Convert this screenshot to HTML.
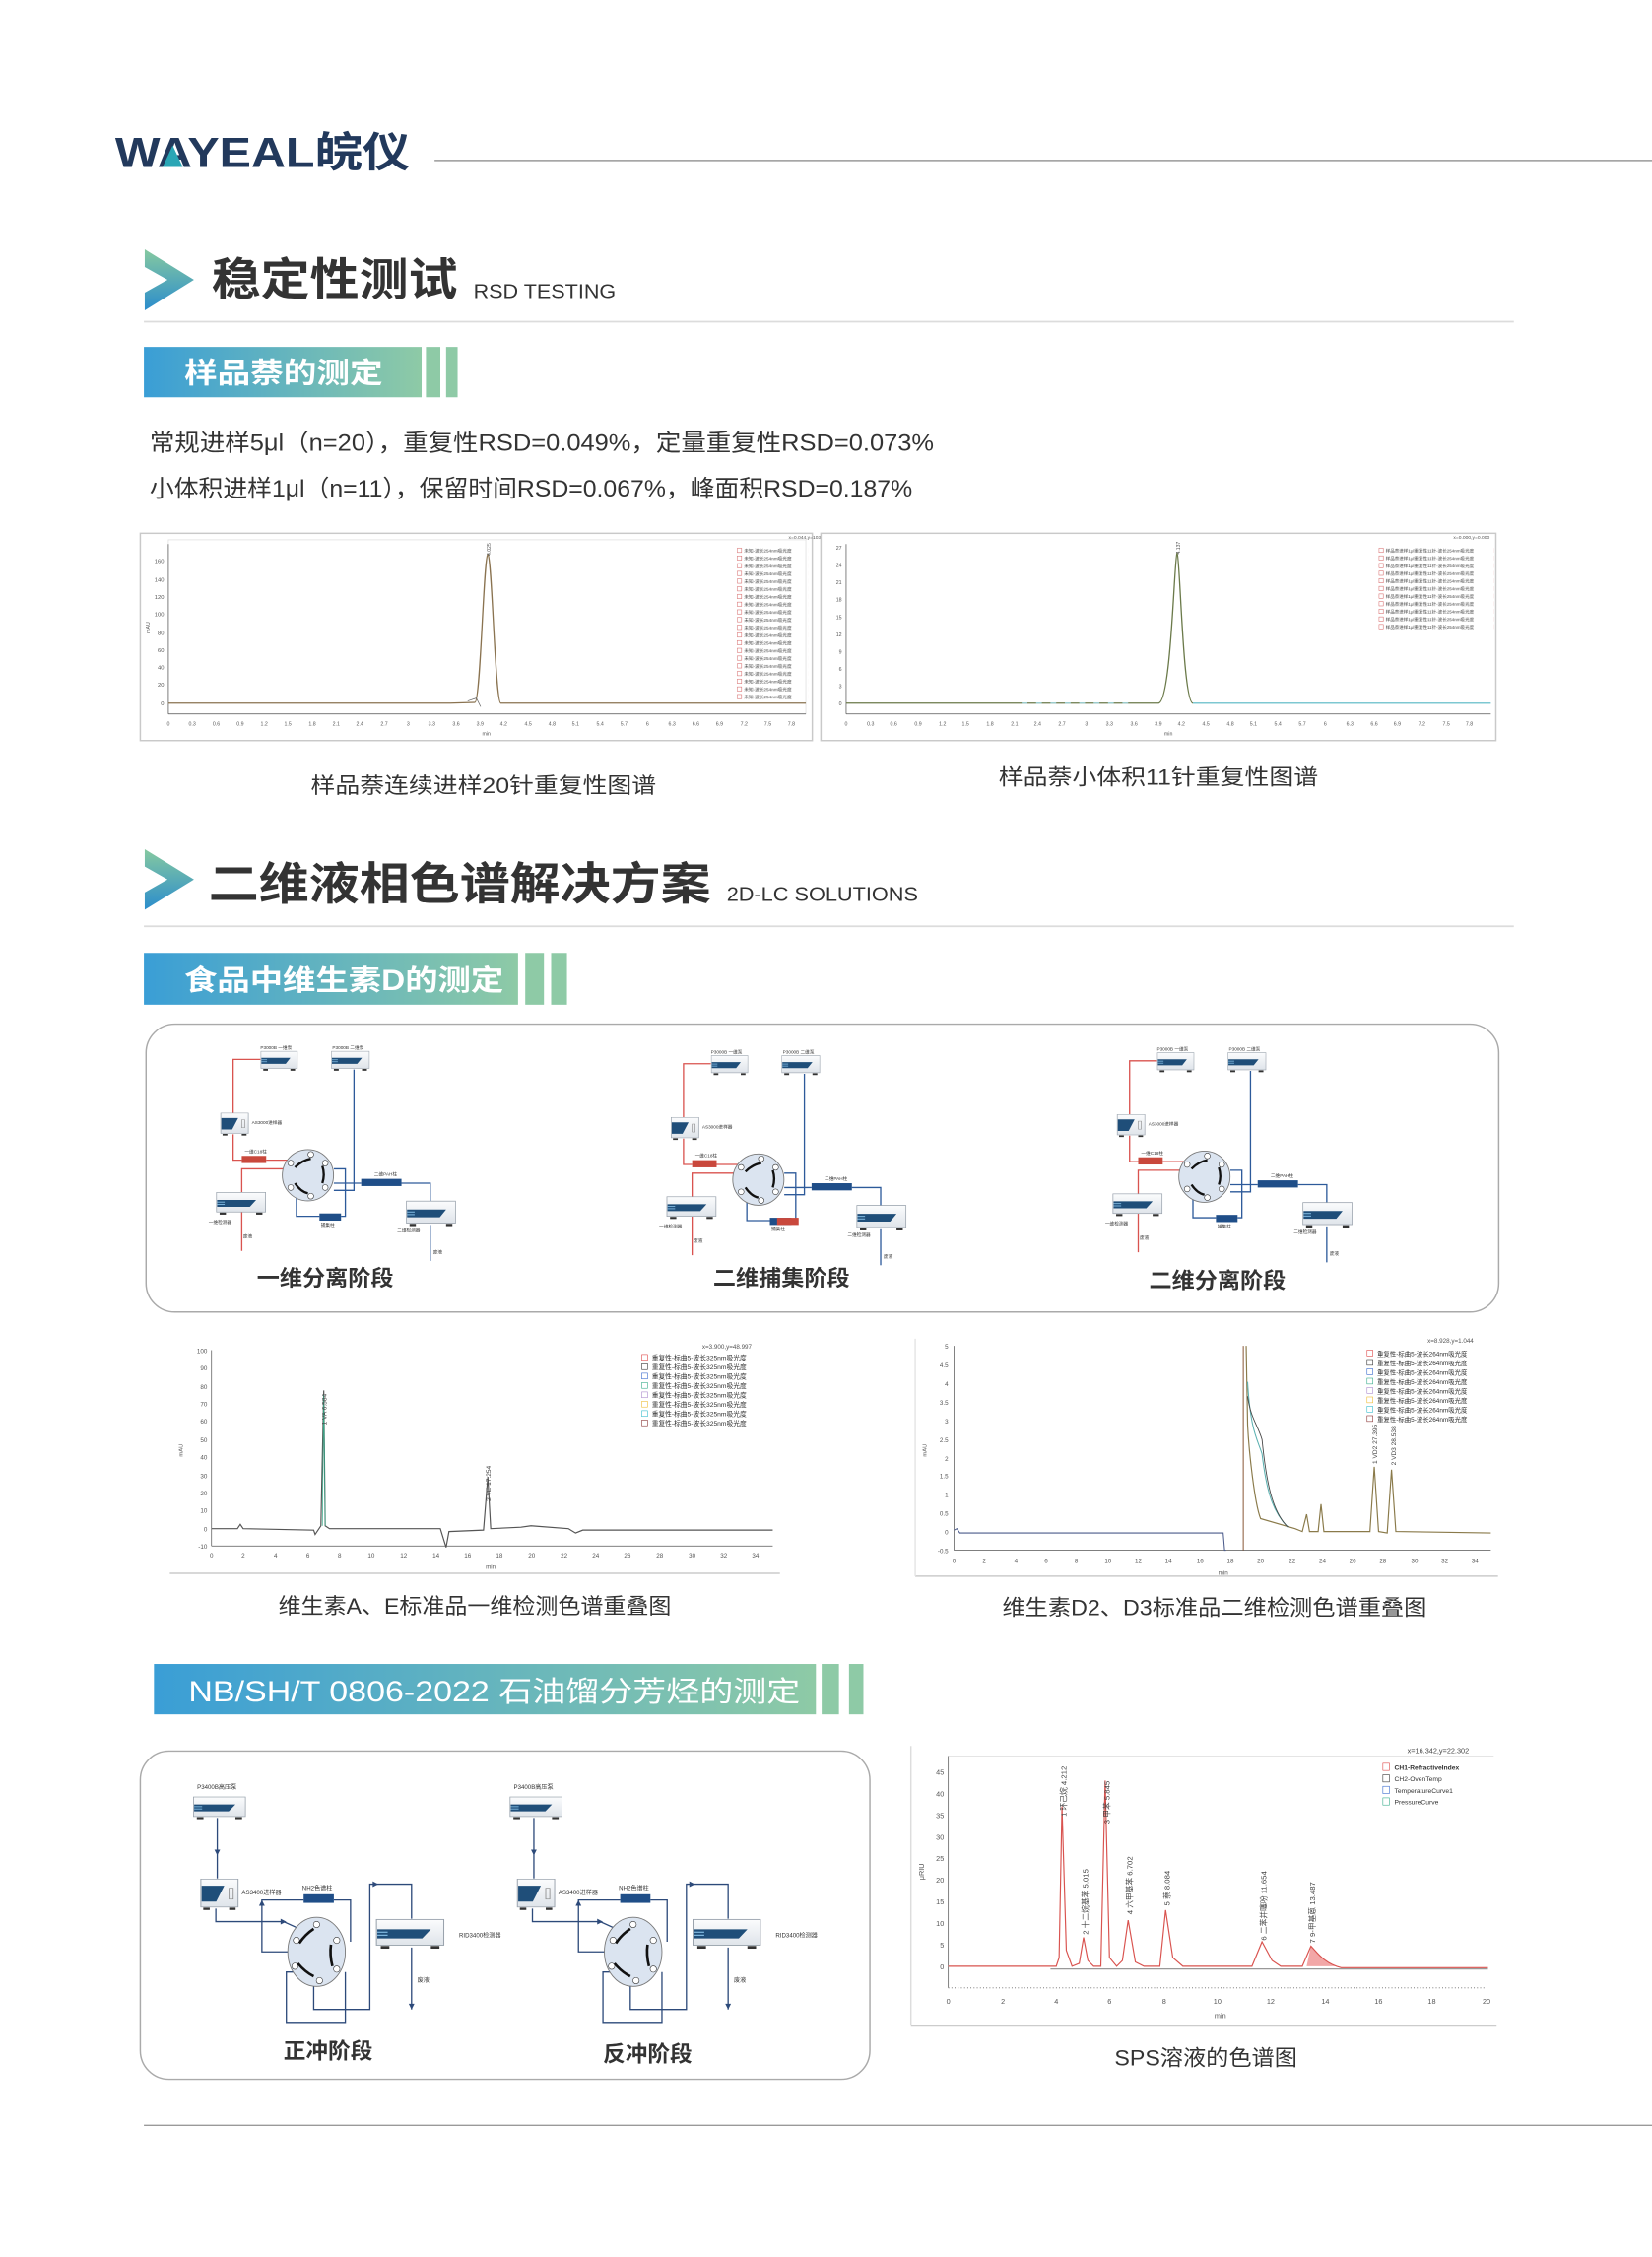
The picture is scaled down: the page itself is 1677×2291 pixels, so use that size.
<!DOCTYPE html>
<html><head><meta charset="utf-8">
<style>
html,body{margin:0;padding:0;background:#fff;}
svg{display:block;}
text{font-family:"Liberation Sans","Noto Sans CJK SC",sans-serif;}
</style></head>
<body>
<svg width="1677" height="2291" viewBox="0 0 1148 1568" preserveAspectRatio="none" xmlns="http://www.w3.org/2000/svg">
<defs>
<linearGradient id="ban" x1="0" x2="1" y1="0" y2="0"><stop offset="0" stop-color="#3a9ed6"/><stop offset="1" stop-color="#8ecaa6"/></linearGradient>
<linearGradient id="arr" x1="0" x2="0" y1="0" y2="1"><stop offset="0" stop-color="#86c9a0"/><stop offset="1" stop-color="#2b8dcc"/></linearGradient>
<linearGradient id="box" x1="0" x2="0" y1="0" y2="1"><stop offset="0" stop-color="#fbfcfd"/><stop offset="1" stop-color="#dfe4ea"/></linearGradient>
<symbol id="inst" viewBox="0 0 40 20" preserveAspectRatio="none">
<rect x="0.5" y="0.5" width="39" height="17" fill="url(#box)" stroke="#9aa3ad" stroke-width="0.6"/>
<polygon points="1,7 32,7 27,13 1,13" fill="#1f4e79"/>
<rect x="1" y="8.5" width="6" height="0.8" fill="#7fb8e0"/><rect x="1" y="10.5" width="6" height="0.8" fill="#7fb8e0"/>
<rect x="3" y="18" width="5" height="1.8" fill="#333"/><rect x="32" y="18" width="5" height="1.8" fill="#333"/>
</symbol>
<symbol id="samp" viewBox="0 0 24 26" preserveAspectRatio="none">
<rect x="0.5" y="0.5" width="23" height="23" fill="url(#box)" stroke="#9aa3ad" stroke-width="0.6"/>
<polygon points="1,6 15,6 10,19 1,19" fill="#1f4e79"/>
<rect x="18" y="8" width="2.5" height="9" fill="none" stroke="#888" stroke-width="0.5"/>
<rect x="2" y="24" width="4" height="2" fill="#333"/><rect x="18" y="24" width="4" height="2" fill="#333"/>
</symbol>
<pattern id="leg20" x="512" y="380" width="50" height="5.35" patternUnits="userSpaceOnUse">
<rect x="0.3" y="0.8" width="3" height="3" fill="#fff" stroke="#c44" stroke-width="0.3"/>
<text x="5" y="3.6" font-size="3.2" fill="#444">未知-波长254nm吸光度</text>
</pattern>
<pattern id="leg11" x="958" y="380" width="80" height="5.3" patternUnits="userSpaceOnUse">
<rect x="0.3" y="0.8" width="3" height="3" fill="#fff" stroke="#c44" stroke-width="0.3"/>
<text x="5" y="3.6" font-size="3.1" fill="#444">样品萘进样1μl重复性11针-波长254nm吸光度</text>
</pattern>
</defs>

<!-- header -->
<text x="80" y="116" font-size="29" font-weight="bold" fill="#22395c" textLength="205" lengthAdjust="spacingAndGlyphs">WAYEAL皖仪</text>
<polygon points="113,116 120,101 127,116" fill="#2aa6b5"/>
<line x1="302" y1="111.5" x2="1148" y2="111.5" stroke="#9a9a9a" stroke-width="1"/>

<!-- section 1 -->
<polygon points="100.6,173.2 134.8,194.4 100.6,215.6 100.6,203.3 116.4,194.4 100.6,185.5" fill="url(#arr)"/>
<text x="147" y="205" font-size="31" font-weight="bold" fill="#333" textLength="171" lengthAdjust="spacingAndGlyphs">稳定性测试</text>
<text x="329" y="207" font-size="14" fill="#333" textLength="99" lengthAdjust="spacingAndGlyphs">RSD TESTING</text>
<line x1="100" y1="223.5" x2="1052" y2="223.5" stroke="#dcdcdc" stroke-width="1.2"/>
<rect x="100" y="241" width="193" height="35" fill="url(#ban)"/>
<rect x="296" y="241" width="10" height="35" fill="#8ecaa6"/><rect x="310" y="241" width="8" height="35" fill="#8ecaa6"/>
<text x="128" y="266" font-size="20" font-weight="bold" fill="#fff" textLength="138" lengthAdjust="spacingAndGlyphs">样品萘的测定</text>
<text x="104" y="313" font-size="16.5" fill="#333" textLength="545" lengthAdjust="spacingAndGlyphs">常规进样5μl（n=20），重复性RSD=0.049%，定量重复性RSD=0.073%</text>
<text x="104" y="345" font-size="16.5" fill="#333" textLength="530" lengthAdjust="spacingAndGlyphs">小体积进样1μl（n=11），保留时间RSD=0.067%，峰面积RSD=0.187%</text>

<!-- chart 1 left -->
<rect x="97.5" y="370.5" width="467" height="144" fill="#fff" stroke="#c9c9c9"/>
<rect x="117" y="375" width="443" height="121" fill="none" stroke="#ddd" stroke-width="0.5"/>
<line x1="117" y1="378" x2="117" y2="496" stroke="#555" stroke-width="0.5"/>
<line x1="117" y1="496" x2="560" y2="496" stroke="#555" stroke-width="0.5"/>
<g font-size="4" fill="#555" text-anchor="end">
<text x="114" y="490">0</text><text x="114" y="477">20</text><text x="114" y="465">40</text><text x="114" y="453">60</text><text x="114" y="441">80</text><text x="114" y="428">100</text><text x="114" y="416">120</text><text x="114" y="404">140</text><text x="114" y="391">160</text>
</g>
<g font-size="3.6" fill="#555" text-anchor="middle">
<text x="117" y="504">0</text><text x="133.6" y="504">0.3</text><text x="150.3" y="504">0.6</text><text x="167" y="504">0.9</text><text x="183.6" y="504">1.2</text><text x="200" y="504">1.5</text><text x="217" y="504">1.8</text><text x="233.6" y="504">2.1</text><text x="250" y="504">2.4</text><text x="267" y="504">2.7</text><text x="283.6" y="504">3</text><text x="300" y="504">3.3</text><text x="317" y="504">3.6</text><text x="333.6" y="504">3.9</text><text x="350" y="504">4.2</text><text x="367" y="504">4.5</text><text x="383.6" y="504">4.8</text><text x="400" y="504">5.1</text><text x="417" y="504">5.4</text><text x="433.6" y="504">5.7</text><text x="450" y="504">6</text><text x="467" y="504">6.3</text><text x="483.6" y="504">6.6</text><text x="500" y="504">6.9</text><text x="517" y="504">7.2</text><text x="533.6" y="504">7.5</text><text x="550" y="504">7.8</text>
<text x="338" y="511">min</text></g>
<text x="104" y="440" font-size="3.6" fill="#555" transform="rotate(-90 104 440)">mAU</text>
<text x="548" y="374.5" font-size="3.4" fill="#555">x=0.044,y=103.109</text>
<rect x="512" y="380" width="50" height="107" fill="url(#leg20)"/>
<path d="M117 488.5 L313 488.5 L330 488 C334 488 336 387 339 385 C342 387 344 488 348 488.5 L560 488.5" fill="none" stroke="#8a7350" stroke-width="0.9"/>
<path d="M325 487 L331 485 L334 491" fill="none" stroke="#666" stroke-width="0.5"/>
<text x="341" y="386" font-size="3.5" fill="#555" transform="rotate(-90 341 386)">4.025</text>

<!-- chart 1 right -->
<rect x="570.5" y="370.5" width="469" height="144" fill="#fff" stroke="#c9c9c9"/>
<line x1="588" y1="378" x2="588" y2="496" stroke="#555" stroke-width="0.5"/>
<line x1="588" y1="496" x2="1036" y2="496" stroke="#555" stroke-width="0.5"/>
<g font-size="3.6" fill="#555" text-anchor="end">
<text x="585" y="490">0</text><text x="585" y="478">3</text><text x="585" y="466">6</text><text x="585" y="454">9</text><text x="585" y="442">12</text><text x="585" y="430">15</text><text x="585" y="418">18</text><text x="585" y="406">21</text><text x="585" y="394">24</text><text x="585" y="382">27</text>
</g>
<g font-size="3.6" fill="#555" text-anchor="middle">
<text x="588" y="504">0</text><text x="605" y="504">0.3</text><text x="621" y="504">0.6</text><text x="638" y="504">0.9</text><text x="655" y="504">1.2</text><text x="671" y="504">1.5</text><text x="688" y="504">1.8</text><text x="705" y="504">2.1</text><text x="721" y="504">2.4</text><text x="738" y="504">2.7</text><text x="755" y="504">3</text><text x="771" y="504">3.3</text><text x="788" y="504">3.6</text><text x="805" y="504">3.9</text><text x="821" y="504">4.2</text><text x="838" y="504">4.5</text><text x="855" y="504">4.8</text><text x="871" y="504">5.1</text><text x="888" y="504">5.4</text><text x="905" y="504">5.7</text><text x="921" y="504">6</text><text x="938" y="504">6.3</text><text x="955" y="504">6.6</text><text x="971" y="504">6.9</text><text x="988" y="504">7.2</text><text x="1005" y="504">7.5</text><text x="1021" y="504">7.8</text>
<text x="812" y="511">min</text></g>
<text x="1010" y="374.5" font-size="3.4" fill="#555">x=0.000,y=0.000</text>
<rect x="958" y="380" width="80" height="58" fill="url(#leg11)"/>
<path d="M588 488.5 L805 488.5 C814 488 816 386 818 384 C820 386 822 488 829 488.5" fill="none" stroke="#6b7a4a" stroke-width="0.9"/>
<line x1="829" y1="488.5" x2="1036" y2="488.5" stroke="#7ec8d2" stroke-width="1"/>
<line x1="710" y1="488.5" x2="790" y2="488.5" stroke="#9fd4da" stroke-width="0.8" stroke-dasharray="4 6"/>
<text x="820" y="385" font-size="3.5" fill="#555" transform="rotate(-90 820 385)">4.137</text>

<text x="336" y="551" font-size="15" fill="#333" text-anchor="middle" textLength="240" lengthAdjust="spacingAndGlyphs">样品萘连续进样20针重复性图谱</text>
<text x="805" y="545" font-size="15" fill="#333" text-anchor="middle" textLength="222" lengthAdjust="spacingAndGlyphs">样品萘小体积11针重复性图谱</text>

<!-- section 2 -->
<polygon points="100.6,590 134.8,611 100.6,632 100.6,620 116.4,611 100.6,602" fill="url(#arr)"/>
<text x="145" y="625" font-size="31" font-weight="bold" fill="#333" textLength="349" lengthAdjust="spacingAndGlyphs">二维液相色谱解决方案</text>
<text x="505" y="626" font-size="14" fill="#333" textLength="133" lengthAdjust="spacingAndGlyphs">2D-LC SOLUTIONS</text>
<line x1="100" y1="643.5" x2="1052" y2="643.5" stroke="#dcdcdc" stroke-width="1.2"/>
<rect x="100" y="662" width="260" height="36" fill="url(#ban)"/>
<rect x="365" y="662" width="13" height="36" fill="#8ecaa6"/><rect x="383" y="662" width="11" height="36" fill="#8ecaa6"/>
<text x="128" y="688" font-size="20" font-weight="bold" fill="#fff" textLength="222" lengthAdjust="spacingAndGlyphs">食品中维生素D的测定</text>

<rect x="101.5" y="711.5" width="940" height="200" rx="20" fill="#fff" stroke="#aaa" stroke-width="1"/>

<g id="d1">
<g fill="none" stroke-width="0.9">
<polyline points="181,736 162,736 162,774" stroke="#d9534f"/>
<polyline points="162,788 162,806 168,806" stroke="#d9534f"/>
<polyline points="185,806 210,806" stroke="#d9534f"/>
<polyline points="168,869 168,812 199,812" stroke="#d9534f"/>
<polyline points="246,743 246,827 232,827" stroke="#2d5a9a"/>
<polyline points="232,812 240,812 240,845 237,845" stroke="#2d5a9a"/>
<polyline points="222,845 206,845 206,830" stroke="#2d5a9a"/>
<polyline points="232,822 251,822" stroke="#2d5a9a"/>
<polyline points="279,822 299,822 299,835" stroke="#2d5a9a"/>
<polyline points="299,851 299,876" stroke="#2d5a9a"/>
</g>
<circle cx="214" cy="816.5" r="17.8" fill="#dbe4f0" stroke="#777" stroke-width="0.6"/>
<g fill="#fff" stroke="#333" stroke-width="0.4">
<circle cx="216" cy="802" r="2"/><circle cx="226" cy="808" r="2"/><circle cx="226" cy="825" r="2"/><circle cx="216" cy="831" r="2"/><circle cx="202" cy="825" r="2"/><circle cx="202" cy="808" r="2"/>
</g>
<g fill="none" stroke="#111" stroke-width="1.6">
<path d="M216 805 Q210 806 205 811"/><path d="M224 810 Q226 816 224 822"/><path d="M205 822 Q209 828 214 829"/>
</g>
<rect x="168" y="803" width="17" height="5" fill="#c9483c"/>
<rect x="251" y="819" width="28" height="5" fill="#1f4e88"/>
<rect x="222" y="843" width="15" height="5" fill="#1f4e88"/>
<use href="#inst" x="181" y="730" width="26" height="14"/>
<use href="#inst" x="230" y="730" width="27" height="14"/>
<use href="#samp" x="153" y="773" width="20" height="16"/>
<use href="#inst" x="150" y="828" width="35" height="16"/>
<use href="#inst" x="282" y="834" width="35" height="18"/>
<g font-size="3.2" fill="#333">
<text x="181" y="729">P3000B 一维泵</text><text x="231" y="729">P3000B 二维泵</text>
<text x="175" y="781">AS3000进样器</text><text x="170" y="801">一维C18柱</text>
<text x="260" y="817">二维PAH柱</text><text x="145" y="850">一维检测器</text><text x="169" y="860">废液</text>
<text x="223" y="852">捕集柱</text><text x="276" y="856">二维检测器</text><text x="301" y="871">废液</text>
</g>
</g>
<use href="#d1" x="313" y="3"/>
<rect x="540" y="846" width="15" height="5" fill="#c9483c"/>
<use href="#d1" x="623" y="1"/>

<text x="226" y="893" font-size="15" font-weight="bold" fill="#333" text-anchor="middle" textLength="95" lengthAdjust="spacingAndGlyphs">一维分离阶段</text>
<text x="543" y="893" font-size="15" font-weight="bold" fill="#333" text-anchor="middle" textLength="95" lengthAdjust="spacingAndGlyphs">二维捕集阶段</text>
<text x="846" y="895" font-size="15" font-weight="bold" fill="#333" text-anchor="middle" textLength="95" lengthAdjust="spacingAndGlyphs">二维分离阶段</text>

<!-- chart VA VE -->
<line x1="118" y1="1093" x2="542" y2="1093" stroke="#ccc"/>
<line x1="147" y1="938" x2="147" y2="1074" stroke="#555" stroke-width="0.5"/>
<line x1="147" y1="1074" x2="537" y2="1074" stroke="#555" stroke-width="0.5"/>
<g font-size="4.3" fill="#555" text-anchor="end">
<text x="144" y="940">100</text><text x="144" y="952">90</text><text x="144" y="965">80</text><text x="144" y="977">70</text><text x="144" y="989">60</text><text x="144" y="1002">50</text><text x="144" y="1014">40</text><text x="144" y="1027">30</text><text x="144" y="1039">20</text><text x="144" y="1051">10</text><text x="144" y="1064">0</text><text x="144" y="1076">-10</text>
</g>
<g font-size="4.3" fill="#555" text-anchor="middle">
<text x="147" y="1082">0</text><text x="169" y="1082">2</text><text x="191.5" y="1082">4</text><text x="214" y="1082">6</text><text x="236" y="1082">8</text><text x="258" y="1082">10</text><text x="280.5" y="1082">12</text><text x="303" y="1082">14</text><text x="325" y="1082">16</text><text x="347" y="1082">18</text><text x="369.5" y="1082">20</text><text x="392" y="1082">22</text><text x="414" y="1082">24</text><text x="436" y="1082">26</text><text x="458.5" y="1082">28</text><text x="481" y="1082">30</text><text x="503" y="1082">32</text><text x="525" y="1082">34</text>
<text x="341" y="1090">min</text></g>
<text x="127" y="1012" font-size="4" fill="#555" transform="rotate(-90 127 1012)">mAU</text>
<text x="488" y="937" font-size="4.3" fill="#555">x=3.900,y=48.997</text>
<g font-size="4.6" fill="#333">
<rect x="446" y="941" width="4" height="4" fill="#fff" stroke="#d44" stroke-width="0.4"/><text x="453" y="945">重复性-标曲5-波长325nm吸光度</text>
<rect x="446" y="947.5" width="4" height="4" fill="#fff" stroke="#333" stroke-width="0.4"/><text x="453" y="951.5">重复性-标曲5-波长325nm吸光度</text>
<rect x="446" y="954" width="4" height="4" fill="#fff" stroke="#36c" stroke-width="0.4"/><text x="453" y="958">重复性-标曲5-波长325nm吸光度</text>
<rect x="446" y="960.5" width="4" height="4" fill="#fff" stroke="#3a8" stroke-width="0.4"/><text x="453" y="964.5">重复性-标曲5-波长325nm吸光度</text>
<rect x="446" y="967" width="4" height="4" fill="#fff" stroke="#a8c" stroke-width="0.4"/><text x="453" y="971">重复性-标曲5-波长325nm吸光度</text>
<rect x="446" y="973.5" width="4" height="4" fill="#fff" stroke="#eb3" stroke-width="0.4"/><text x="453" y="977.5">重复性-标曲5-波长325nm吸光度</text>
<rect x="446" y="980" width="4" height="4" fill="#fff" stroke="#3bc" stroke-width="0.4"/><text x="453" y="984">重复性-标曲5-波长325nm吸光度</text>
<rect x="446" y="986.5" width="4" height="4" fill="#fff" stroke="#833" stroke-width="0.4"/><text x="453" y="990.5">重复性-标曲5-波长325nm吸光度</text>
</g>
<path d="M147 1062 L165 1062 L167 1059 L169 1062 L218 1063 L219 1066 L223 1060 L225 966 L226 1060 L229 1062 L306 1062 L310 1075 L312 1064 L336 1063 L339 1026 L341 1062 L362 1061 L369 1060 L395 1062 L400 1065 L405 1063 L537 1063" fill="none" stroke="#555" stroke-width="0.8"/>
<path d="M224 1060 L225 969 L226 1060" fill="none" stroke="#3a8" stroke-width="0.5"/>
<text x="227" y="990" font-size="4.5" fill="#444" transform="rotate(-90 227 990)">1 VA 6.584</text>
<text x="341" y="1043" font-size="4.5" fill="#444" transform="rotate(-90 341 1043)">2 VE 17.254</text>

<!-- chart VD -->
<line x1="636" y1="1095" x2="1041" y2="1095" stroke="#ccc"/>
<line x1="636" y1="930" x2="636" y2="1095" stroke="#e5e5e5"/>
<line x1="663" y1="935" x2="663" y2="1077" stroke="#555" stroke-width="0.5"/>
<line x1="663" y1="1077" x2="1036" y2="1077" stroke="#555" stroke-width="0.5"/>
<g font-size="4.3" fill="#555" text-anchor="end">
<text x="659" y="937">5</text><text x="659" y="950">4.5</text><text x="659" y="963">4</text><text x="659" y="976">3.5</text><text x="659" y="989">3</text><text x="659" y="1002">2.5</text><text x="659" y="1015">2</text><text x="659" y="1027">1.5</text><text x="659" y="1040">1</text><text x="659" y="1053">0.5</text><text x="659" y="1066">0</text><text x="659" y="1079">-0.5</text>
</g>
<g font-size="4.3" fill="#555" text-anchor="middle">
<text x="663" y="1086">0</text><text x="684" y="1086">2</text><text x="706" y="1086">4</text><text x="727" y="1086">6</text><text x="748" y="1086">8</text><text x="770" y="1086">10</text><text x="791" y="1086">12</text><text x="812" y="1086">14</text><text x="834" y="1086">16</text><text x="855" y="1086">18</text><text x="876" y="1086">20</text><text x="898" y="1086">22</text><text x="919" y="1086">24</text><text x="940" y="1086">26</text><text x="961" y="1086">28</text><text x="983" y="1086">30</text><text x="1004" y="1086">32</text><text x="1025" y="1086">34</text>
<text x="850" y="1094">min</text></g>
<text x="644" y="1012" font-size="4" fill="#555" transform="rotate(-90 644 1012)">mAU</text>
<text x="992" y="933" font-size="4.3" fill="#555">x=8.928,y=1.044</text>
<g font-size="4.4" fill="#333">
<rect x="950" y="938" width="4" height="4" fill="#fff" stroke="#d44" stroke-width="0.4"/><text x="957" y="942">重复性-标曲5-波长264nm吸光度</text>
<rect x="950" y="944.5" width="4" height="4" fill="#fff" stroke="#333" stroke-width="0.4"/><text x="957" y="948.5">重复性-标曲5-波长264nm吸光度</text>
<rect x="950" y="951" width="4" height="4" fill="#fff" stroke="#36c" stroke-width="0.4"/><text x="957" y="955">重复性-标曲5-波长264nm吸光度</text>
<rect x="950" y="957.5" width="4" height="4" fill="#fff" stroke="#3a8" stroke-width="0.4"/><text x="957" y="961.5">重复性-标曲5-波长264nm吸光度</text>
<rect x="950" y="964" width="4" height="4" fill="#fff" stroke="#a8c" stroke-width="0.4"/><text x="957" y="968">重复性-标曲5-波长264nm吸光度</text>
<rect x="950" y="970.5" width="4" height="4" fill="#fff" stroke="#eb3" stroke-width="0.4"/><text x="957" y="974.5">重复性-标曲5-波长264nm吸光度</text>
<rect x="950" y="977" width="4" height="4" fill="#fff" stroke="#3bc" stroke-width="0.4"/><text x="957" y="981">重复性-标曲5-波长264nm吸光度</text>
<rect x="950" y="983.5" width="4" height="4" fill="#fff" stroke="#833" stroke-width="0.4"/><text x="957" y="987.5">重复性-标曲5-波长264nm吸光度</text>
</g>
<line x1="864" y1="935" x2="864" y2="1077" stroke="#8b5a3a" stroke-width="0.7"/>
<path d="M663 1063 L665 1062 L667 1065 L850 1065 L851 1077 L852 1077" fill="none" stroke="#4a5a8a" stroke-width="0.7"/>
<path d="M866 935 L867 990 C868 1010 872 1045 876 1055 L900 1062 L905 1064 L908 1052 L910 1064 L916 1064 L918 1045 L920 1064 L952 1064 L955 1019 L958 1064 L964 1065 L967 1021 L970 1064 L1036 1065" fill="none" stroke="#8a7a4a" stroke-width="0.8"/>
<path d="M867 960 C869 995 874 1000 877 1010 C880 1035 884 1050 895 1061" fill="none" stroke="#5ab0b0" stroke-width="0.7"/>
<path d="M867 970 C869 985 874 990 877 1000 C880 1030 884 1050 895 1061" fill="none" stroke="#444" stroke-width="0.6"/>
<text x="957" y="1017" font-size="4.5" fill="#444" transform="rotate(-90 957 1017)">1 VD2 27.395</text>
<text x="970" y="1018" font-size="4.5" fill="#444" transform="rotate(-90 970 1018)">2 VD3 28.538</text>

<text x="330" y="1121" font-size="15" fill="#333" text-anchor="middle" textLength="273" lengthAdjust="spacingAndGlyphs">维生素A、E标准品一维检测色谱重叠图</text>
<text x="844" y="1122" font-size="15" fill="#333" text-anchor="middle" textLength="295" lengthAdjust="spacingAndGlyphs">维生素D2、D3标准品二维检测色谱重叠图</text>

<!-- banner 3 -->
<rect x="107" y="1156" width="460" height="35" fill="url(#ban)"/>
<rect x="571" y="1156" width="12" height="35" fill="#8ecaa6"/><rect x="590" y="1156" width="10" height="35" fill="#8ecaa6"/>
<text x="131" y="1182" font-size="20" fill="#fff" textLength="425" lengthAdjust="spacingAndGlyphs">NB/SH/T 0806-2022 石油馏分芳烃的测定</text>

<rect x="97.5" y="1216.5" width="507" height="228" rx="20" fill="#fff" stroke="#aaa" stroke-width="1"/>
<g id="d2">
<g fill="none" stroke="#2d4a7a" stroke-width="0.9">
<polyline points="151,1263 151,1305"/>
<polyline points="150,1326 150,1335 197,1335 219,1345"/>
<polyline points="182,1335 182,1320 211,1320"/>
<polyline points="182,1335 182,1356 205,1356"/>
<polyline points="232,1320 243.6,1320 243.6,1349"/>
<polyline points="218,1376 218,1396 257,1396 257,1309 286,1309 286,1333"/>
<polyline points="286,1353 286,1396"/>
<polyline points="205,1370 199,1370 199,1405 240,1405 240,1370"/>
</g>
<g fill="#2d4a7a"><polygon points="149,1285 153,1285 151,1289"/><polygon points="284,1392 288,1392 286,1396"/><polygon points="259,1307 259,1311 263,1309"/><polygon points="180,1324 184,1324 182,1320"/><polygon points="195,1333 195,1337 199,1335"/></g>
<ellipse cx="220" cy="1356" rx="20" ry="24" fill="#dbe4f0" stroke="#777" stroke-width="0.6"/>
<g fill="#fff" stroke="#333" stroke-width="0.4">
<circle cx="220" cy="1337" r="2.2"/><circle cx="234" cy="1348" r="2.2"/><circle cx="234" cy="1368" r="2.2"/><circle cx="222" cy="1376" r="2.2"/><circle cx="205" cy="1366" r="2.2"/><circle cx="206" cy="1348" r="2.2"/>
</g>
<g fill="none" stroke="#111" stroke-width="1.8">
<path d="M218 1340 Q212 1344 208 1350"/><path d="M230 1351 Q229 1358 231 1366"/><path d="M207 1364 Q212 1370 218 1373"/>
</g>
<rect x="211" y="1316" width="21" height="6" fill="#1f4e88"/>
<use href="#inst" x="134" y="1248" width="37" height="16"/>
<use href="#samp" x="139" y="1305" width="27" height="22"/>
<use href="#inst" x="261" y="1333" width="48" height="21"/>
<g font-size="4.2" fill="#333">
<text x="137" y="1243">P3400B高压泵</text><text x="168" y="1316">AS3400进样器</text><text x="210" y="1313">NH2色谱柱</text>
<text x="319" y="1346">RID3400检测器</text><text x="290" y="1377">废液</text>
</g>
</g>
<use href="#d2" x="220" y="0"/>
<text x="228" y="1430" font-size="15" font-weight="bold" fill="#333" text-anchor="middle" textLength="62" lengthAdjust="spacingAndGlyphs">正冲阶段</text>
<text x="450" y="1432" font-size="15" font-weight="bold" fill="#333" text-anchor="middle" textLength="62" lengthAdjust="spacingAndGlyphs">反冲阶段</text>

<!-- SPS chart -->
<line x1="633" y1="1213" x2="633" y2="1407" stroke="#ddd"/>
<line x1="633" y1="1407.5" x2="1040" y2="1407.5" stroke="#ccc"/>
<line x1="659" y1="1220" x2="1038" y2="1220" stroke="#ddd" stroke-width="0.5"/>
<line x1="659" y1="1220" x2="659" y2="1381" stroke="#555" stroke-width="0.5"/>
<line x1="659" y1="1381" x2="1034" y2="1381" stroke="#555" stroke-width="0.6" stroke-dasharray="0.6 1.6"/>
<g font-size="5" fill="#555" text-anchor="end">
<text x="656" y="1233">45</text><text x="656" y="1248">40</text><text x="656" y="1263">35</text><text x="656" y="1278">30</text><text x="656" y="1293">25</text><text x="656" y="1308">20</text><text x="656" y="1323">15</text><text x="656" y="1338">10</text><text x="656" y="1353">5</text><text x="656" y="1368">0</text>
</g>
<g font-size="5" fill="#555" text-anchor="middle">
<text x="659" y="1392">0</text><text x="697" y="1392">2</text><text x="734" y="1392">4</text><text x="771" y="1392">6</text><text x="809" y="1392">8</text><text x="846" y="1392">10</text><text x="883" y="1392">12</text><text x="921" y="1392">14</text><text x="958" y="1392">16</text><text x="995" y="1392">18</text><text x="1033" y="1392">20</text>
<text x="848" y="1402">min</text></g>
<text x="642" y="1306" font-size="5" fill="#555" transform="rotate(-90 642 1306)">μRIU</text>
<text x="978" y="1218" font-size="5" fill="#444">x=16.342,y=22.302</text>
<g font-size="4.6" fill="#333">
<rect x="961" y="1225" width="4.5" height="5" fill="#fff" stroke="#d44" stroke-width="0.4"/><text x="969" y="1229.5" font-weight="bold">CH1-RefractiveIndex</text>
<rect x="961" y="1233" width="4.5" height="5" fill="#fff" stroke="#333" stroke-width="0.4"/><text x="969" y="1237.5">CH2-OvenTemp</text>
<rect x="961" y="1241" width="4.5" height="5" fill="#fff" stroke="#36c" stroke-width="0.4"/><text x="969" y="1245.5">TemperatureCurve1</text>
<rect x="961" y="1249" width="4.5" height="5" fill="#fff" stroke="#3a8" stroke-width="0.4"/><text x="969" y="1253.5">PressureCurve</text>
</g>
<path d="M908 1366 L911 1352 C915 1356 920 1364 930 1366 Z" fill="#f2a7a7"/>
<path d="M659 1366 L734 1366 L736 1360 L738 1255 L741 1355 L745 1366 L750 1364 L753 1346 L756 1362 L760 1366 L765 1366 L768 1237 L771 1360 L776 1366 L780 1362 L784 1334 L789 1363 L795 1366 L806 1366 L810 1327 L815 1360 L822 1366 L870 1366 L877 1349 L884 1362 L890 1366 L905 1366 L911 1352 C915 1356 920 1364 932 1367 L1034 1367" fill="none" stroke="#d9534f" stroke-width="0.8"/>
<line x1="730" y1="1368" x2="1034" y2="1368" stroke="#333" stroke-width="0.4"/>
<g font-size="5.3" fill="#444">
<text x="741" y="1262" transform="rotate(-90 741 1262)">1 环己烷 4.212</text>
<text x="756" y="1344" transform="rotate(-90 756 1344)">2 十二烷基苯 5.015</text>
<text x="771" y="1267" transform="rotate(-90 771 1267)">3 甲苯 5.845</text>
<text x="787" y="1330" transform="rotate(-90 787 1330)">4 六甲基苯 6.702</text>
<text x="813" y="1324" transform="rotate(-90 813 1324)">5 萘 8.084</text>
<text x="880" y="1348" transform="rotate(-90 880 1348)">6 二苯并噻吩 11.654</text>
<text x="914" y="1350" transform="rotate(-90 914 1350)">7 9-甲基蒽 13.487</text>
</g>
<text x="838" y="1435" font-size="15" fill="#333" text-anchor="middle" textLength="127" lengthAdjust="spacingAndGlyphs">SPS溶液的色谱图</text>

<line x1="100" y1="1476.5" x2="1148" y2="1476.5" stroke="#9a9a9a" stroke-width="1"/>
</svg>
</body></html>
